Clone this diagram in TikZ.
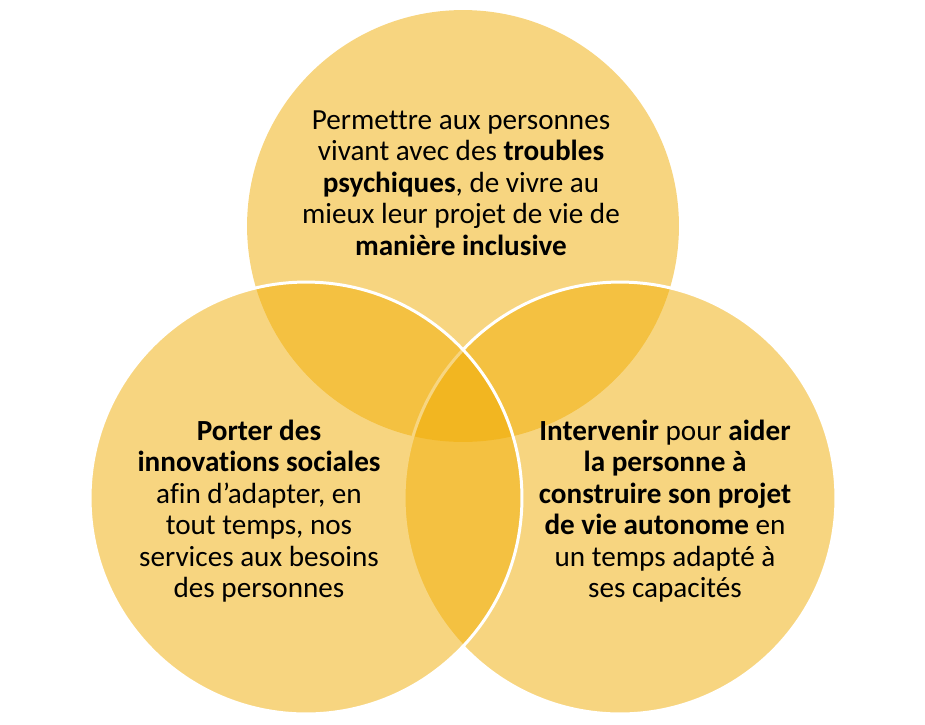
\documentclass[tikz,border=0pt]{standalone}
\usepackage{fontspec}
\setmainfont{Carlito}[Ligatures=NoCommon]
\usepackage{xcolor}
\definecolor{venngold}{RGB}{240,172,2}
\tikzset{
  petal/.style = {circle,fill=venngold,fill opacity=0.5,draw=white,
                  line width=1.7pt,minimum size=8.64cm,inner sep=0pt},
  blurb/.style = {align=center,text=black,
                  font=\fontsize{16.6}{17.9}\selectfont},
}

\begin{document}
\begin{tikzpicture}[x=0.02cm,y=-0.02cm]
  \useasboundingbox (0,0) rectangle (925,724);
  % three overlapping circles
  \node[petal,draw=none] (ctop) at (463,226) {};
  \node[petal] (cright) at (620,498) {};
  \node[petal] (cleft) at (306,498) {};
  % texts
  \node[blurb] (goal) at (461,183) {Permettre aux personnes\\vivant avec des \textbf{troubles}\\\textbf{psychiques}, de vivre au\\mieux leur projet de vie de\\\textbf{manière inclusive}};
  \node[blurb] (innov) at (259,511) {\textbf{Porter des}\\\textbf{innovations sociales}\\afin d’adapter, en\\tout temps, nos\\services aux besoins\\des personnes};
  \node[blurb] (support) at (665,511) {\textbf{Intervenir} pour \textbf{aider}\\\textbf{la personne à}\\\textbf{construire son projet}\\\textbf{de vie autonome} en\\un temps adapté à\\ses capacités};
\end{tikzpicture}
\end{document}
